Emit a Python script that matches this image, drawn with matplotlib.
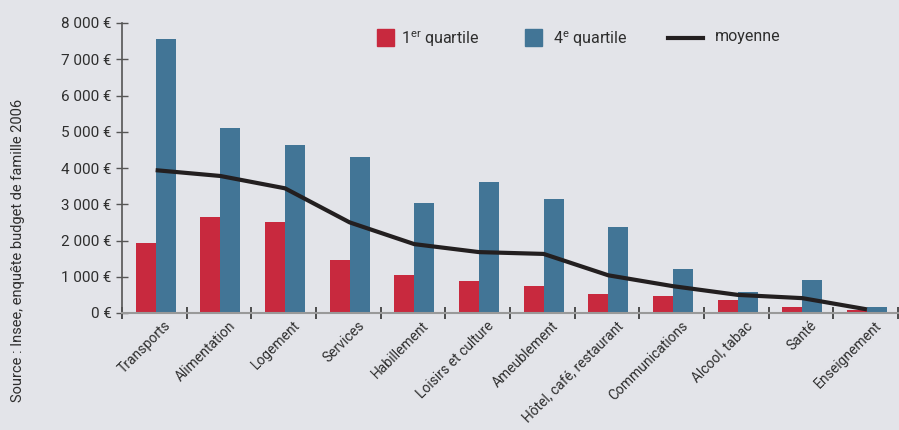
import matplotlib
matplotlib.use("Agg")
import matplotlib.pyplot as plt
import matplotlib.transforms as mtransforms
from matplotlib.patches import Rectangle
from matplotlib.lines import Line2D
import numpy as np

categories = ["Transports", "Alimentation", "Logement", "Services", "Habillement",
              "Loisirs et culture", "Ameublement", "Hôtel, café, restaurant",
              "Communications", "Alcool, tabac", "Santé", "Enseignement"]
q1 = [1920, 2660, 2500, 1460, 1040, 880, 740, 520, 470, 360, 160, 80]
q4 = [7560, 5100, 4630, 4300, 3030, 3610, 3140, 2370, 1210, 580, 910, 170]
mean = [3940, 3780, 3440, 2500, 1900, 1680, 1630, 1040, 740, 500, 410, 100]
yticks = [0, 1000, 2000, 3000, 4000, 5000, 6000, 7000, 8000]
ytick_labels = ["0 €", "1 000 €", "2 000 €", "3 000 €", "4 000 €", "5 000 €",
                "6 000 €", "7 000 €", "8 000 €"]

FONT = ["Roboto", "DejaVu Sans"]
plt.rcParams["font.family"] = FONT
plt.rcParams["mathtext.fontset"] = "custom"
plt.rcParams["mathtext.rm"] = "Roboto"
plt.rcParams["mathtext.it"] = "Roboto"

BG = "#e3e4e9"
RED = "#c8293e"
BLUE = "#427596"
DARK = "#231f20"
TXT = "#2e2e2e"

fig = plt.figure(figsize=(8.99, 4.30), dpi=100, facecolor=BG)
ax = fig.add_axes([122/899, 1-313/430, (898-122)/899, (313-23)/430])
ax.set_facecolor(BG)

x = np.arange(len(categories))
w = 0.31
ax.bar(x - w/2 + 0.02, q1, width=w, color=RED, zorder=2)
ax.bar(x + w/2 + 0.02, q4, width=w, color=BLUE, zorder=2)
ax.plot(x + 0.02, mean, color=DARK, lw=3, zorder=3, solid_capstyle="butt")

ax.set_xlim(-0.5, len(categories) - 0.5)
ax.set_ylim(0, 8000)

for s in ["top", "right"]:
    ax.spines[s].set_visible(False)
ax.spines["left"].set_color("#555555")
ax.spines["left"].set_linewidth(1.2)
ax.spines["bottom"].set_color("#999999")
ax.spines["bottom"].set_linewidth(1.5)

ax.set_yticks(yticks)
ax.set_yticklabels(ytick_labels, fontsize=11, color=TXT)
ax.tick_params(axis="y", direction="inout", length=9, width=1, color="#555555", pad=3)

ax.set_xticks(np.arange(len(categories) + 1) - 0.5)
ax.set_xticklabels([])
ax.tick_params(axis="x", which="major", direction="inout", length=9, width=1.2, color="#333333")
ax.set_xticks(x, minor=True)
ax.set_xticklabels(categories, minor=True, rotation=45, ha="right", va="top",
                   rotation_mode="anchor", fontsize=10, color=TXT)
ax.tick_params(axis="x", which="minor", length=0, pad=4)
offset = mtransforms.ScaledTranslation(9/100, 0, fig.dpi_scale_trans)
for lab in ax.get_xticklabels(minor=True):
    lab.set_transform(lab.get_transform() + offset)

# legend (manual)
def fx(px):
    return px / 899
def fy(py):
    return 1 - py / 430

fig.patches.append(Rectangle((fx(377), fy(46)), 17/899, 17/430, color=RED,
                             transform=fig.transFigure, figure=fig))
fig.text(fx(401), fy(39), "1$^{\\rm er}$ quartile", fontsize=11.5, color=TXT, va="center")
fig.patches.append(Rectangle((fx(525), fy(46)), 17/899, 17/430, color=BLUE,
                             transform=fig.transFigure, figure=fig))
fig.text(fx(553), fy(39), "4$^{\\rm e}$ quartile", fontsize=11.5, color=TXT, va="center")
fig.lines.append(Line2D([fx(668), fx(703)], [fy(38), fy(38)], color=DARK, lw=3,
                        transform=fig.transFigure, figure=fig))
fig.text(fx(715), fy(36), "moyenne", fontsize=11.5, color=TXT, va="center")

fig.text(fx(18), fy(250), "Source : Insee, enquête budget de famille 2006",
         rotation=90, fontsize=10.5, color=TXT, ha="center", va="center")

fig.savefig("out.png", dpi=100, facecolor=BG)
